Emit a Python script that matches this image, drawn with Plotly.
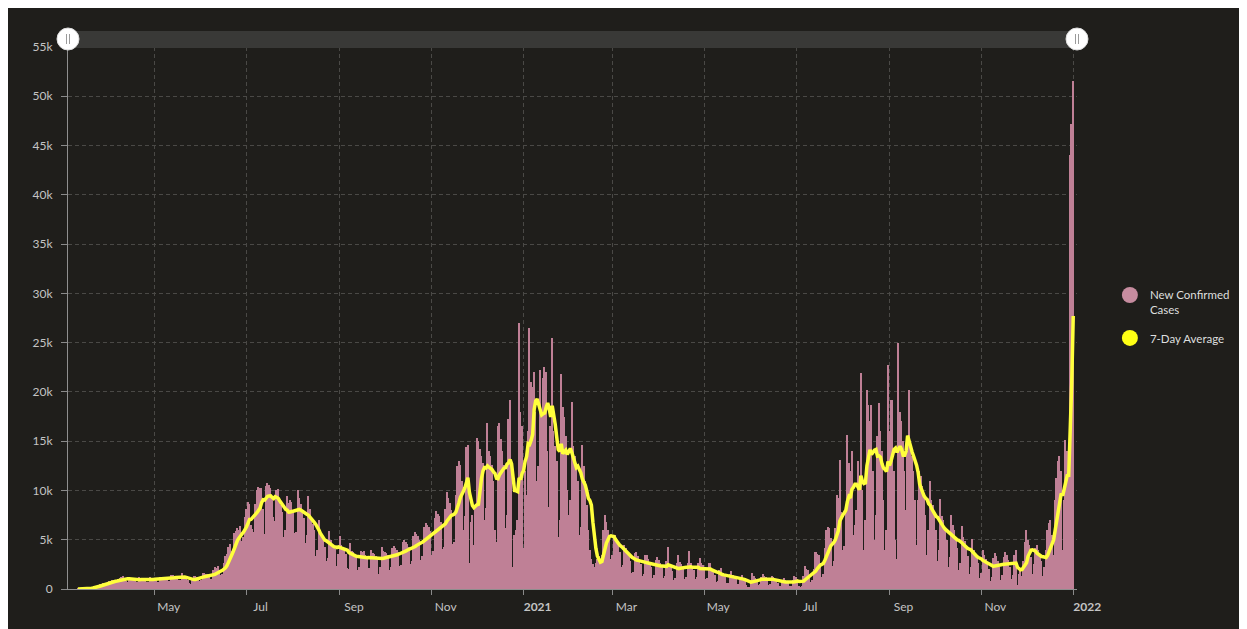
import pandas as pd
import plotly.graph_objects as go

# ---------------- data (daily new confirmed cases, thousands; weeks run Wed..Tue) ----------------
start_date = "2020-03-11"

spring_2020 = [
    0.01, 0.01, 0.02, 0.02, 0.03, 0.05, 0.07,
    0.08, 0.12, 0.16, 0.20, 0.22, 0.28, 0.34,
    0.40, 0.50, 0.55, 0.60, 0.50, 0.55, 0.75,
    0.80, 0.85, 0.95, 0.90, 0.70, 0.75, 1.00,
    1.15, 1.20, 1.30, 1.10, 0.80, 0.75, 1.05,
    1.00, 1.10, 1.00, 0.90, 0.70, 0.75, 1.20,
    1.05, 1.05, 1.00, 0.95, 0.70, 0.70, 1.20,
    1.10, 1.15, 1.10, 1.00, 0.70, 0.75, 1.20,
    1.20, 1.25, 1.15, 1.05, 0.80, 0.85, 1.40,
    1.40, 1.35, 1.30, 1.20, 0.90, 0.95, 1.65,
    1.30, 1.20, 1.05, 0.90, 0.60, 0.50, 1.10,
    1.35, 1.30, 1.25, 1.15, 0.85, 0.90, 1.60,
    1.60, 1.50, 1.50, 1.30, 1.00, 1.00, 1.90,
    2.20, 2.10, 2.30, 1.90, 1.40, 1.50, 2.60,
]
summer_2020 = [
    3.3, 3.6, 4.3, 4.6, 3.9, 4.0, 5.7,
    5.9, 6.2, 6.0, 6.4, 4.9, 5.3, 7.3,
    8.1, 8.8, 8.6, 6.5, 6.1, 5.8, 8.6,
    10.0, 10.4, 10.2, 10.3, 8.1, 5.6, 10.5,
    10.8, 10.6, 10.3, 9.2, 7.3, 6.9, 10.0,
    10.1, 8.9, 8.5, 7.8, 5.3, 6.0, 9.4,
    8.7, 9.0, 8.8, 8.0, 5.7, 5.8, 10.0,
    9.2, 8.6, 7.9, 7.2, 4.7, 5.5, 9.4,
    8.1, 7.0, 6.6, 6.0, 3.3, 4.0, 7.0,
    5.7, 5.3, 5.1, 4.3, 2.8, 3.1, 5.9,
    5.0, 4.6, 4.4, 4.1, 2.3, 3.6, 5.4,
    4.5, 4.3, 4.0, 3.6, 2.1, 2.0, 4.7,
    3.9, 3.8, 3.6, 3.1, 1.9, 2.2, 3.9,
    3.8, 3.9, 3.5, 3.0, 2.1, 2.1, 4.0,
    3.7, 3.6, 3.3, 3.1, 1.5, 2.2, 4.3,
]
winter_2020 = [
    3.9, 3.8, 3.7, 3.4, 1.9, 2.2, 4.2,
    4.4, 4.2, 4.0, 3.8, 2.3, 2.4, 4.8,
    5.0, 4.8, 4.6, 4.3, 2.5, 2.8, 5.4,
    5.8, 5.6, 5.4, 5.0, 2.9, 3.3, 6.3,
    6.7, 6.5, 6.3, 5.9, 3.4, 3.9, 7.2,
    7.9, 7.6, 7.4, 6.8, 4.1, 4.3, 8.1,
    9.8, 9.2, 8.7, 8.0, 4.6, 4.8, 9.5,
    12.5, 13.0, 12.6, 11.0, 6.0, 7.4, 14.4,
    14.6, 2.6, 6.8, 7.5, 4.5, 8.5, 15.3,
    15.0, 14.2, 13.5, 12.8, 7.0, 8.2, 16.8,
    14.0, 13.5, 12.6, 11.0, 6.0, 4.8, 16.5,
    16.8, 15.2, 14.0, 12.6, 6.2, 7.5, 17.3,
    19.2, 12.0, 2.2, 5.5, 6.0, 7.0, 27.0,
    18.0, 16.5, 4.2, 12.0, 9.5, 16.0, 26.5,
    21.0, 20.5, 22.0, 18.0, 11.0, 12.5, 22.2,
    17.5, 21.4, 22.5, 22.0, 14.0, 8.3, 16.5,
    25.5, 16.0, 14.5, 13.0, 5.3, 7.0, 21.8,
    18.5, 17.5, 15.5, 10.0, 7.5, 9.0, 19.0,
    14.5, 13.5, 12.8, 11.0, 5.5, 6.3, 14.6,
    12.5, 11.0, 8.5, 6.0, 4.0, 3.0, 2.5,
]
spring_2021 = [
    2.2, 2.6, 3.0, 3.3, 2.5, 3.5, 6.0,
    7.5, 6.8, 6.0, 5.0, 3.0, 3.5, 5.5,
    5.5, 5.0, 4.6, 3.8, 2.2, 2.4, 4.5,
    4.2, 3.6, 3.4, 2.8, 1.6, 1.7, 3.7,
    3.8, 3.3, 3.0, 2.5, 1.3, 1.5, 3.5,
    3.5, 3.0, 2.7, 2.2, 1.1, 1.4, 2.9,
    3.2, 2.9, 2.6, 2.2, 1.1, 1.3, 2.8,
    4.3, 2.5, 2.2, 1.8, 0.9, 1.1, 2.6,
    3.4, 2.7, 2.5, 2.0, 1.0, 1.2, 2.6,
    3.9, 2.6, 2.2, 1.9, 1.0, 1.2, 2.6,
    3.1, 2.6, 2.4, 1.9, 1.0, 1.1, 2.6,
    2.6, 2.0, 1.8, 1.4, 0.7, 0.8, 1.9,
    2.1, 1.6, 1.5, 1.2, 0.6, 0.6, 1.5,
    1.8, 1.4, 1.3, 1.0, 0.5, 0.5, 1.2,
    1.4, 1.1, 0.9, 0.4, 0.2, 0.2, 0.7,
    1.6, 1.3, 1.1, 0.9, 0.4, 0.5, 1.2,
    1.5, 1.3, 1.2, 0.8, 0.4, 0.5, 1.3,
    1.2, 1.0, 0.9, 0.6, 0.3, 0.3, 0.95,
    1.1, 0.9, 0.8, 0.6, 0.3, 0.3, 0.9,
    1.3, 1.2, 1.0, 0.3, 0.2, 0.3, 1.3,
]
summer_2021 = [
    2.3, 2.0, 1.9, 1.4, 0.7, 0.9, 2.0,
    3.8, 3.6, 3.4, 2.6, 1.2, 1.5, 4.2,
    6.0, 6.3, 6.2, 5.2, 2.3, 2.8, 6.2,
    9.5, 9.2, 13.1, 7.8, 4.0, 4.4, 8.0,
    15.6, 12.8, 12.0, 14.0, 5.5, 6.5, 8.0,
    13.0, 11.5, 21.9, 10.0, 4.0, 7.0, 20.2,
    18.7, 17.0, 18.7, 12.0, 5.0, 7.5, 15.5,
    18.9, 16.0, 14.0, 9.0, 4.0, 6.0, 22.7,
    16.0, 19.2, 19.2, 12.0, 5.0, 3.0, 25.0,
    18.0, 17.0, 15.0, 12.0, 8.0, 14.0, 20.2,
    14.6, 13.5, 12.0, 9.0, 4.5, 9.0, 12.0,
    11.5, 10.5, 9.5, 7.5, 3.5, 6.0, 11.0,
    9.0, 8.5, 7.5, 6.0, 2.8, 4.0, 9.1,
    7.4, 7.0, 6.2, 5.0, 2.2, 3.2, 7.5,
    6.5, 6.0, 5.3, 4.2, 1.9, 2.6, 6.4,
    5.3, 4.9, 4.3, 3.3, 1.5, 2.2, 5.1,
    4.0, 3.7, 3.3, 2.6, 1.1, 1.6, 4.0,
]
winter_2021 = [
    3.4, 3.0, 2.6, 2.0, 0.8, 1.2, 3.1,
    3.7, 3.3, 2.8, 2.2, 0.9, 1.4, 3.2,
    3.8, 3.4, 2.9, 2.2, 1.0, 1.4, 3.5,
    4.0, 0.4, 1.5, 1.8, 1.3, 2.8, 4.8,
    6.0, 5.0, 4.5, 3.2, 1.5, 2.5, 4.2,
    4.5, 4.0, 3.6, 2.8, 1.3, 2.2, 4.0,
    6.0, 6.7, 7.0, 5.5, 3.5, 9.0, 11.3,
    13.0, 13.5, 12.0, 4.0, 9.0, 15.1, 14.0,
    13.1, 44.0, 47.2, 51.5,
]

x_tick_dates = ["2020-05-01", "2020-07-01", "2020-09-01", "2020-11-01", "2021-01-01",
                "2021-03-01", "2021-05-01", "2021-07-01", "2021-09-01", "2021-11-01", "2022-01-01"]
x_tick_labels = ["May", "Jul", "Sep", "Nov", "<b>2021</b>", "Mar", "May", "Jul", "Sep", "Nov", "<b>2022</b>"]
y_tick_values = [0, 5000, 10000, 15000, 20000, 25000, 30000, 35000, 40000, 45000, 50000, 55000]
y_tick_labels = ["0", "5k", "10k", "15k", "20k", "25k", "30k", "35k", "40k", "45k", "50k", "55k"]

# ---------------- build ----------------
cases_k = spring_2020 + summer_2020 + winter_2020 + spring_2021 + summer_2021 + winter_2021
cases = pd.Series([round(v * 1000) for v in cases_k])
dates = pd.date_range(start_date, periods=len(cases), freq="D")
avg7 = cases.rolling(7, min_periods=1).mean()

BG = "#1f1e1b"
PINK = "#bf8096"
YELLOW = "#ffff3c"
GRID = "#4a4946"
TICKC = "#c4c4c4"
FONT = "Lato, 'Noto Sans', sans-serif"

fig = go.Figure()
fig.add_trace(go.Bar(x=dates, y=cases, marker=dict(color=PINK, line=dict(width=0)),
                     name="New Confirmed Cases", showlegend=False, hoverinfo="x+y"))
fig.add_trace(go.Scatter(x=dates, y=avg7, mode="lines", line=dict(color=YELLOW, width=3.5),
                         name="7-Day Average", showlegend=False))
# legend entries with round symbols
fig.add_trace(go.Scatter(x=[None], y=[None], mode="markers", name="New Confirmed<br>Cases",
                         marker=dict(symbol="circle", size=16, color="#c68c9f"), legendgroup="a"))
fig.add_trace(go.Scatter(x=[None], y=[None], mode="markers", name="7-Day Average",
                         marker=dict(symbol="circle", size=16, color="#ffff14"), legendgroup="b"))

# page has an 8px body margin: figure occupies window pixels 8..1247 / 8..629
OFF = 8
L, R, T, B = 68, 1080, 47, 589          # plot area in window pixels
W, H = 1247 - OFF, 629 - OFF
ph = B - T

def py(ypix):
    return (B - ypix) / ph

shapes = [
    dict(type="rect", xref="paper", yref="paper", x0=0, x1=1, y0=py(48), y1=py(31),
         fillcolor="#393937", line=dict(width=0), layer="above"),
]
for xa in (0, 1):
    shapes.append(dict(type="circle", xref="paper", yref="paper", xsizemode="pixel", ysizemode="pixel",
                       xanchor=xa, yanchor=py(39), x0=-11, x1=11, y0=-11, y1=11,
                       fillcolor="#ffffff", line=dict(color="#dddddd", width=1), layer="above"))
    for dx in (-1.5, 1.5):
        shapes.append(dict(type="line", xref="paper", yref="paper", xsizemode="pixel", ysizemode="pixel",
                           xanchor=xa, yanchor=py(39), x0=dx, x1=dx, y0=-5, y1=5,
                           line=dict(color="#9a9a9a", width=1), layer="above"))

fig.update_layout(
    width=W, height=H,
    margin=dict(l=L - OFF, r=1247 - R, t=T - OFF, b=629 - B),
    paper_bgcolor=BG, plot_bgcolor=BG,
    bargap=0,
    font=dict(family=FONT, size=12, color=TICKC),
    shapes=shapes,
    showlegend=True,
    legend=dict(x=(1113 - L) / (R - L), xanchor="left", y=py(281), yanchor="top",
                font=dict(family=FONT, size=11.5, color="#dedede"), valign="top",
                bgcolor="rgba(0,0,0,0)", tracegroupgap=10, itemclick=False),
    xaxis=dict(type="date", range=["2020-03-04 10:00", "2022-01-03 12:00"],
               tickmode="array", tickvals=x_tick_dates, ticktext=x_tick_labels,
               ticks="outside", ticklen=5, tickcolor="#8a8a8a", tickwidth=1,
               showline=True, linecolor="#8f8f8f", linewidth=1,
               showgrid=True, gridcolor=GRID, griddash="4px,3px", gridwidth=1,
               zeroline=False, tickfont=dict(size=12, color=TICKC),
               ticklabelshift=14, ticklabelstandoff=2, fixedrange=True),
    yaxis=dict(range=[0, 55000], tickmode="array", tickvals=y_tick_values, ticktext=y_tick_labels,
               ticks="outside", ticklen=6, tickcolor="#8a8a8a", tickwidth=1,
               showline=True, linecolor="#8f8f8f", linewidth=1,
               showgrid=True, gridcolor=GRID, griddash="4px,3px", gridwidth=1,
               zeroline=False, tickfont=dict(size=12, color=TICKC), ticklabelstandoff=6,
               fixedrange=True),
)

fig.write_html("out.html")
